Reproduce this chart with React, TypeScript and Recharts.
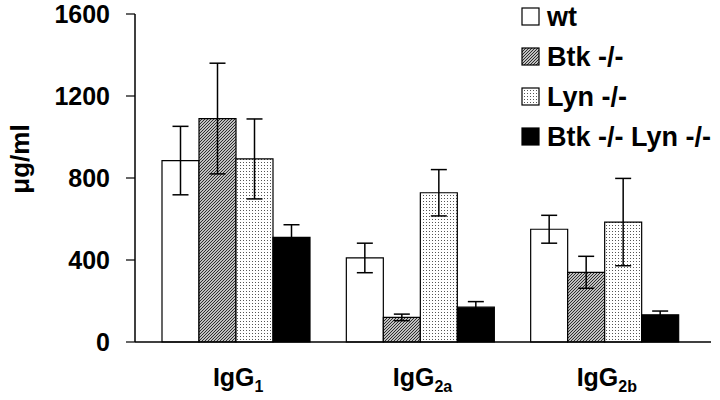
import { BarChart, Bar, XAxis, YAxis, ErrorBar } from 'recharts'

const categories = ['IgG1', 'IgG2a', 'IgG2b']
const subscripts = ['1', '2a', '2b']
const wt = [885, 410, 550]
const wtErr = [167, 72, 68]
const btk = [1090, 120, 340]
const btkErr = [270, 16, 78]
const lyn = [893, 728, 585]
const lynErr = [195, 113, 213]
const btkLyn = [510, 170, 133]
const btkLynErr = [62, 27, 18]
const yTicks = [0, 400, 800, 1200, 1600]

const seriesNames = ['wt', 'Btk -/-', 'Lyn -/-', 'Btk -/- Lyn -/-']
const seriesFills = ['#fff', 'url(#hatch)', 'url(#dots)', '#000']

const data = categories.map((c, i) => ({
  name: c,
  wt: wt[i],
  wtErr: wtErr[i],
  btk: btk[i],
  btkErr: btkErr[i],
  lyn: lyn[i],
  lynErr: lynErr[i],
  btkLyn: btkLyn[i],
  btkLynErr: btkLynErr[i],
}))

const font = '"Liberation Sans", Arial, sans-serif'

function XTick({ x, y, index }: any) {
  return (
    <text x={x + 2} y={y + 44} textAnchor="middle" fontFamily={font} fontWeight="bold" fill="#000">
      <tspan fontSize={25}>IgG</tspan>
      <tspan fontSize={16} dy={6}>{subscripts[index]}</tspan>
    </text>
  )
}

function LegendBox() {
  return (
    <div
      style={{
        position: 'absolute',
        top: -3,
        left: 521,
        fontFamily: font,
        fontWeight: 'bold',
        fontSize: 27,
        color: '#000',
        whiteSpace: 'nowrap',
      }}
    >
      {seriesNames.map((n, i) => (
        <div key={n} style={{ display: 'flex', alignItems: 'center', height: 40 }}>
          <svg width={20} height={20} style={{ marginRight: 6 }}>
            <rect x={1} y={1} width={17} height={17} fill={seriesFills[i]} stroke="#000" strokeWidth={1.2} />
          </svg>
          <span>{n}</span>
        </div>
      ))}
    </div>
  )
}

export default function App() {
  return (
    <div style={{ position: 'absolute', left: 0, top: 0, width: 720, height: 400, background: '#fff' }}>
      <BarChart
        width={720}
        height={400}
        data={data}
        margin={{ top: 14, right: 9, left: 0, bottom: 0 }}
        barGap={0}
        barSize={37}
      >
        <defs>
          <pattern id="hatch" patternUnits="userSpaceOnUse" width={3} height={3}>
            <rect width={3} height={3} fill="#fff" />
            <path d="M-1,1 l2,-2 M0,3 l3,-3 M2,4 l2,-2" stroke="#222" strokeWidth={1.1} />
          </pattern>
          <pattern id="dots" patternUnits="userSpaceOnUse" width={3} height={3}>
            <rect width={3} height={3} fill="#fff" />
            <rect width={1} height={1} fill="#555" />
          </pattern>
        </defs>
        <XAxis
          dataKey="name"
          height={58}
          tickSize={0}
          tickMargin={0}
          tick={<XTick />}
          axisLine={{ stroke: '#000', strokeWidth: 1.5 }}
          padding={{ left: 9, right: 14 }}
          interval={0}
        />
        <YAxis
          width={135}
          domain={[0, 1600]}
          ticks={yTicks}
          tickSize={9}
          tickMargin={16}
          tickLine={{ stroke: '#000', strokeWidth: 1.2 }}
          axisLine={{ stroke: '#000', strokeWidth: 1.5 }}
          tick={{ fill: '#000', fontSize: 25, fontWeight: 'bold', fontFamily: font }}
          label={{
            content: () => (
              <text
                x={29}
                y={159}
                transform="rotate(-90 29 159)"
                textAnchor="middle"
                fontFamily={font}
                fontWeight="bold"
                fontSize={26}
                fill="#000"
              >
                μg/ml
              </text>
            ),
          }}
        />
        <Bar dataKey="wt" fill={seriesFills[0]} stroke="#000" strokeWidth={1.2} isAnimationActive={false}>
          <ErrorBar dataKey="wtErr" width={8} stroke="#000" strokeWidth={1.5} isAnimationActive={false} />
        </Bar>
        <Bar dataKey="btk" fill={seriesFills[1]} stroke="#000" strokeWidth={1.2} isAnimationActive={false}>
          <ErrorBar dataKey="btkErr" width={8} stroke="#000" strokeWidth={1.5} isAnimationActive={false} />
        </Bar>
        <Bar dataKey="lyn" fill={seriesFills[2]} stroke="#000" strokeWidth={1.2} isAnimationActive={false}>
          <ErrorBar dataKey="lynErr" width={8} stroke="#000" strokeWidth={1.5} isAnimationActive={false} />
        </Bar>
        <Bar dataKey="btkLyn" fill={seriesFills[3]} stroke="#000" strokeWidth={1.2} isAnimationActive={false}>
          <ErrorBar dataKey="btkLynErr" width={8} stroke="#000" strokeWidth={1.5} isAnimationActive={false} />
        </Bar>
      </BarChart>
      <LegendBox />
    </div>
  )
}
